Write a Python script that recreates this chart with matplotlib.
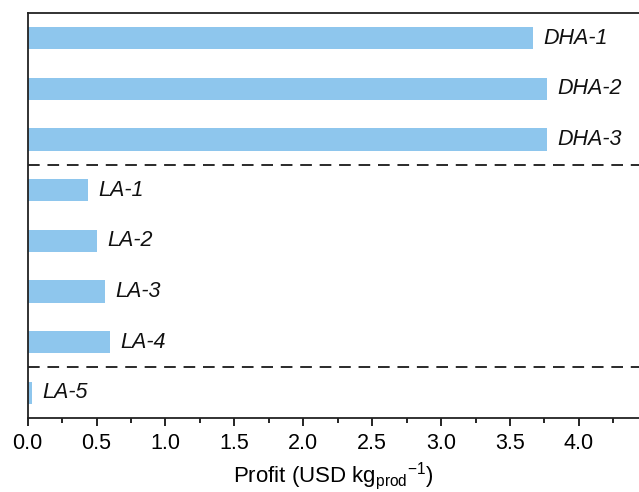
import matplotlib
matplotlib.use("Agg")
import matplotlib.pyplot as plt
from matplotlib.ticker import MultipleLocator

plt.rcParams['font.family'] = ['Liberation Sans', 'DejaVu Sans']
plt.rcParams['mathtext.fontset'] = 'custom'
plt.rcParams['mathtext.rm'] = 'Liberation Sans'
plt.rcParams['mathtext.it'] = 'Liberation Sans:italic'

# Profit per process route
routes = ["DHA-1", "DHA-2", "DHA-3", "LA-1", "LA-2", "LA-3", "LA-4", "LA-5"]
profit = [3.67, 3.77, 3.77, 0.44, 0.50, 0.56, 0.60, 0.03]

# vertical slots, top to bottom
ypos = [8, 7, 6, 5, 4, 3, 2, 1]
separators = [5.5, 1.5]

fig = plt.figure(figsize=(6.39, 4.92), dpi=100)
ax = fig.add_axes([0.0433, 0.1504, 0.9567, 0.8232])

ax.barh(ypos, profit, height=0.44, color='#8ec6ed', edgecolor='none')
for y, v, name in zip(ypos, profit, routes):
    ax.text(v + 0.075, y, name, fontsize=15.5, style='italic',
            va='center', ha='left', color='#111111')

for s in separators:
    ax.axhline(s, color='#2a2a2a', lw=1.4, dashes=(6, 4))

ax.set_xlim(0, 4.436)
ax.set_ylim(0.5, 8.5)
ax.set_yticks([])
ax.xaxis.set_major_locator(MultipleLocator(0.5))
ax.xaxis.set_minor_locator(MultipleLocator(0.25))
ax.xaxis.set_major_formatter(matplotlib.ticker.FormatStrFormatter('%.1f'))
ax.tick_params(axis='x', which='major', length=6, width=1.2, labelsize=15.5, pad=5)
ax.tick_params(axis='x', which='minor', length=3.5, width=1.2)
ax.spines['right'].set_visible(False)
for sp in ['left', 'top', 'bottom']:
    ax.spines[sp].set_linewidth(1.3)
    ax.spines[sp].set_color('#222222')

ax.set_xlabel(r'Profit (USD kg$_{\mathrm{prod}}$$^{\mathrm{-1}}$)', fontsize=16, labelpad=4)

fig.savefig('out.png', dpi=100)
